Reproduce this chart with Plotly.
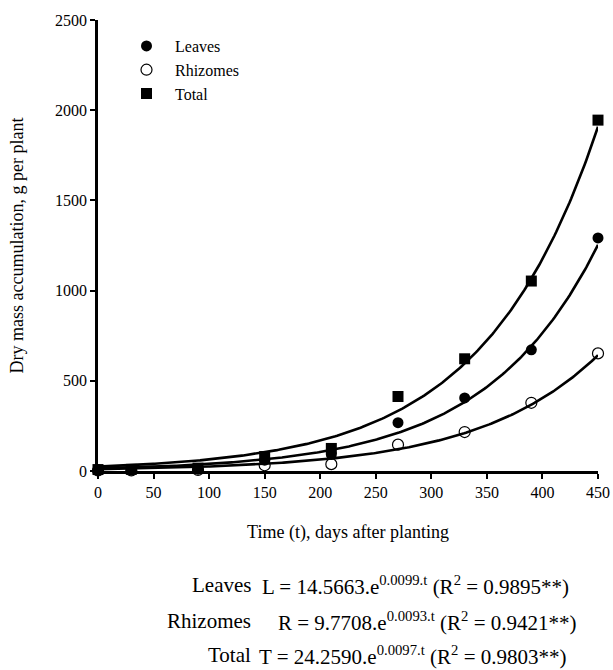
import numpy as np
import plotly.graph_objects as go

# Observed data (days after planting)
days = [0, 30, 90, 150, 210, 270, 330, 390, 450]
leaves = [5, 6, 10, 60, 92, 268, 405, 672, 1292]
rhizomes = [3, 3, 6, 32, 38, 146, 216, 378, 652]
total = [8, 9, 16, 80, 125, 413, 622, 1053, 1945]

# Fitted exponential models y = a * exp(b * t)
series_names = ["Leaves", "Rhizomes", "Total"]
coef_a = [14.5663, 9.7708, 24.2590]
coef_b = [0.0099, 0.0093, 0.0097]
r2 = ["0.9895", "0.9421", "0.9803"]
letters = ["L", "R", "T"]
a_text = ["14.5663", "9.7708", "24.2590"]
b_text = ["0.0099", "0.0093", "0.0097"]

x_ticks = [0, 50, 100, 150, 200, 250, 300, 350, 400, 450]
y_ticks = [0, 500, 1000, 1500, 2000, 2500]

FONT = "Liberation Serif, Times New Roman, serif"

fig = go.Figure()

t_fit = np.linspace(0, 450, 300)
for a, b in zip(coef_a, coef_b):
    fig.add_trace(go.Scatter(x=t_fit, y=a * np.exp(b * t_fit), mode="lines",
                             line=dict(color="black", width=2.6),
                             showlegend=False, hoverinfo="skip", cliponaxis=False))

fig.add_trace(go.Scatter(x=days, y=leaves, mode="markers", name="Leaves",
                         marker=dict(symbol="circle", size=11, color="black"),
                         cliponaxis=False))
fig.add_trace(go.Scatter(x=days, y=rhizomes, mode="markers", name="Rhizomes",
                         marker=dict(symbol="circle-open", size=11, color="black",
                                     line=dict(width=1.2)),
                         cliponaxis=False))
fig.add_trace(go.Scatter(x=days, y=total, mode="markers", name="Total",
                         marker=dict(symbol="square", size=11, color="black"),
                         cliponaxis=False))

fig.update_xaxes(range=[0, 450], tickvals=x_ticks, ticks="outside", ticklen=5,
                 tickwidth=1.5, tickcolor="black", showline=True, linecolor="black",
                 linewidth=2.5, showgrid=False, zeroline=False, automargin=False,
                 ticklabeloverflow="allow",
                 tickfont=dict(family=FONT, size=16, color="black"),
                 title=dict(text="Time (t), days after planting",
                            font=dict(family=FONT, size=18, color="black"),
                            standoff=26))
fig.update_yaxes(range=[0, 2500], tickvals=y_ticks, ticks="outside", ticklen=5,
                 tickwidth=1.5, tickcolor="black", showline=True, linecolor="black",
                 linewidth=2.5, showgrid=False, zeroline=False, automargin=False,
                 ticklabeloverflow="allow",
                 tickfont=dict(family=FONT, size=16, color="black"),
                 title=dict(text="Dry mass accumulation, g per plant",
                            font=dict(family=FONT, size=18, color="black"),
                            standoff=27))

# Equations below the chart (pixel positions converted to paper coords)
PLOT_L, PLOT_W, PLOT_T, PLOT_H = 98, 500, 20, 451
label_right_px = 253
formula_left_px = [260, 276, 257]
line_center_px = [585, 621, 655]
for i in range(3):
    yp = 1 - (line_center_px[i] - PLOT_T) / PLOT_H
    fig.add_annotation(xref="paper", yref="paper",
                       x=(label_right_px - PLOT_L) / PLOT_W, y=yp,
                       xanchor="right", yanchor="middle", showarrow=False,
                       text=series_names[i],
                       font=dict(family=FONT, size=21, color="black"))
    fig.add_annotation(xref="paper", yref="paper",
                       x=(formula_left_px[i] - PLOT_L) / PLOT_W, y=yp,
                       xanchor="left", yanchor="middle", showarrow=False,
                       text=f"{letters[i]} = {a_text[i]}.e<sup>{b_text[i]}.t</sup> (R<sup>2</sup> = {r2[i]}**)",
                       font=dict(family=FONT, size=21, color="black"))

fig.update_layout(
    width=613, height=670,
    margin=dict(l=98, r=15, t=20, b=199),
    plot_bgcolor="white", paper_bgcolor="white",
    legend=dict(x=0.04, y=0.98, xanchor="left", yanchor="top",
                font=dict(family=FONT, size=16, color="black"),
                bgcolor="rgba(0,0,0,0)", itemwidth=47, tracegroupgap=0),
    showlegend=True,
)

fig.write_html("out.html")
